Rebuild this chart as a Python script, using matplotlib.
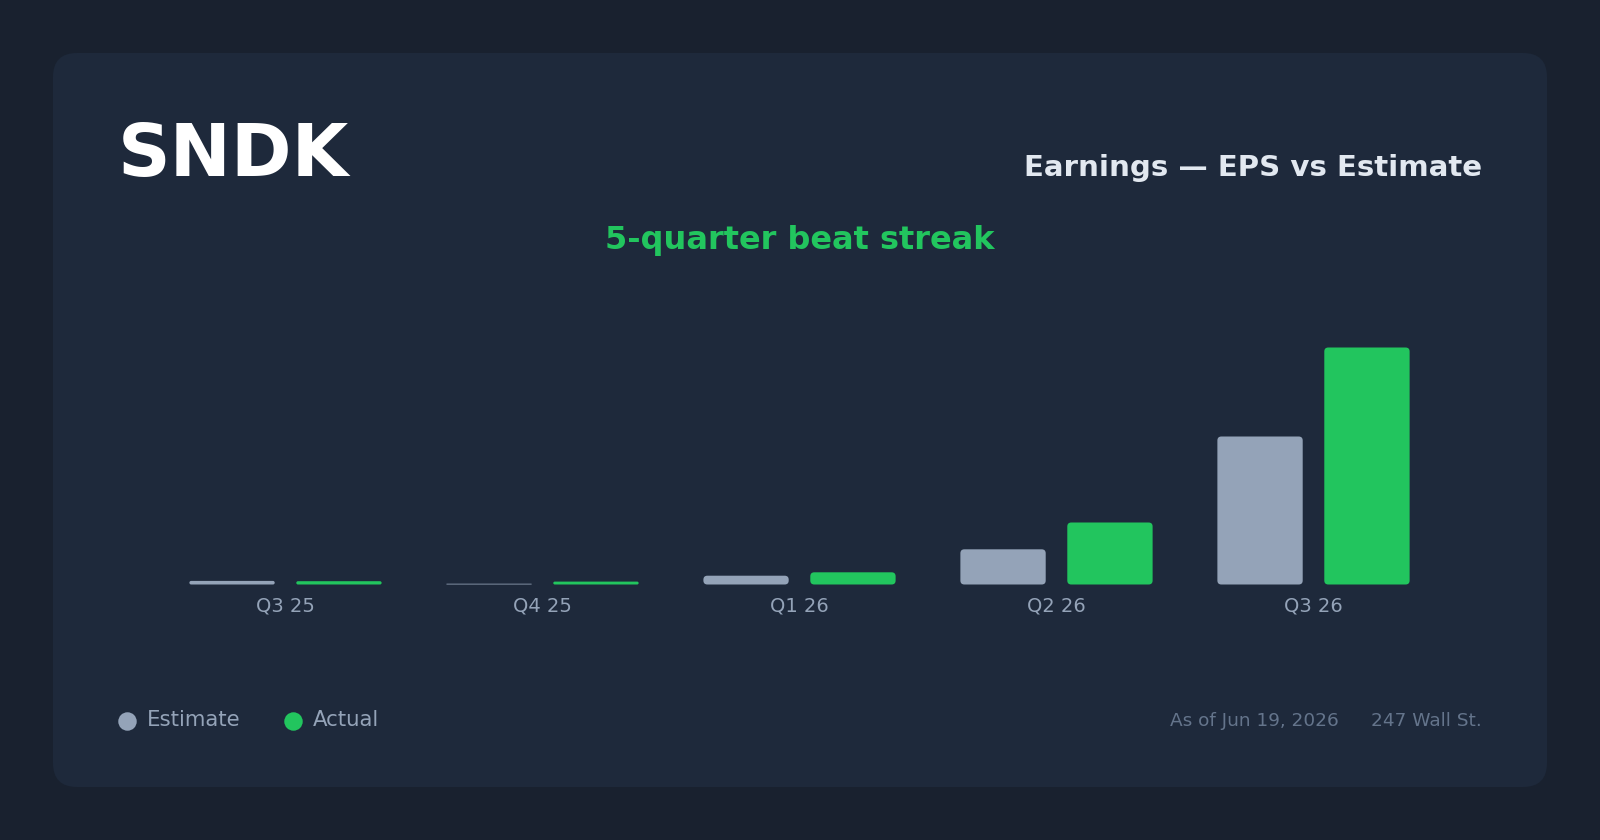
import matplotlib
matplotlib.use("Agg")
import matplotlib.pyplot as plt
from matplotlib.patches import FancyBboxPatch
from matplotlib.lines import Line2D
import numpy as np

# ---- data ----
quarters = ["Q3 25", "Q4 25", "Q1 26", "Q2 26", "Q3 26"]
eps_estimate = [0.36, 0.08, 0.88, 3.52, 14.80]
eps_actual = [0.33, 0.29, 1.22, 6.20, 23.70]

ticker = "SNDK"
title = "Earnings — EPS vs Estimate"
subtitle = "5-quarter beat streak"
legend_labels = ["Estimate", "Actual"]
as_of = "As of Jun 19, 2026"
source = "247 Wall St."

# ---- style ----
BG = "#19212f"
CARD = "#1e293b"
GREY = "#94a3b8"
GREEN = "#22c55e"
W, H = 1600, 840

plt.rcParams['font.family'] = ['DejaVu Sans']

fig = plt.figure(figsize=(W / 100, H / 100), dpi=100)
fig.patch.set_facecolor(BG)


def fx(px):
    return px / W


def fy(py):
    return 1 - py / H


card = FancyBboxPatch((fx(53), fy(787)), (1547 - 53) / W, (787 - 53) / H,
                      boxstyle="round,pad=0,rounding_size=%f" % (24 / W),
                      mutation_aspect=W / H, transform=fig.transFigure,
                      facecolor=CARD, edgecolor="none", zorder=0)
fig.add_artist(card)

# ---- axes ----
ax_left, ax_right = 157, 1442
ax_base, ax_top = 584.5, 300.0
ax = fig.add_axes([fx(ax_left), fy(ax_base), (ax_right - ax_left) / W, (ax_base - ax_top) / H])
ax.set_facecolor("none")
ax.set_xlim(-0.5, len(quarters) - 0.5)
ax.set_ylim(0, 28.45)
for s in ax.spines.values():
    s.set_visible(False)
ax.set_yticks([])

x = np.arange(len(quarters))
bw, off = 0.332, 0.208
bars_e = ax.bar(x - off, eps_estimate, bw, color=GREY)
bars_a = ax.bar(x + off, eps_actual, bw, color=GREEN)

ax.set_xticks(x)
ax.set_xticklabels(quarters)
ax.tick_params(axis='x', length=0, pad=9, labelsize=14, labelcolor=GREY)

# rounded bar corners
px_x = (ax_right - ax_left) / (len(quarters))          # px per x unit
px_y = (ax_base - ax_top) / 28.45                       # px per y unit
aspect = px_x / px_y
for cont in (bars_e, bars_a):
    for rect in cont.patches:
        x0, y0 = rect.get_x(), rect.get_y()
        w, h = rect.get_width(), rect.get_height()
        r_px = min(4.0, h * px_y / 2.0)
        fb = FancyBboxPatch((x0, y0), w, h,
                            boxstyle="round,pad=0,rounding_size=%f" % (r_px / px_x),
                            mutation_aspect=aspect,
                            facecolor=rect.get_facecolor(), edgecolor="none", zorder=2)
        rect.set_visible(False)
        ax.add_patch(fb)

# ---- texts ----
fig.text(fx(118), fy(176), ticker, fontsize=52.6, fontweight='bold', color="#ffffff",
         ha='left', va='baseline')
fig.text(fx(1482), fy(176), title, fontsize=21.1, fontweight='bold', color="#e2e8f0",
         ha='right', va='baseline')
fig.text(fx(800), fy(249), subtitle, fontsize=23.0, fontweight='bold', color=GREEN,
         ha='center', va='baseline')

# legend
for cx, tx, lab, col in [(126.7, 146.5, legend_labels[0], GREY), (292.7, 313.0, legend_labels[1], GREEN)]:
    fig.add_artist(Line2D([fx(cx)], [fy(720.7)], marker='o', markersize=13.3,
                          markerfacecolor=col, markeredgecolor='none', linestyle='none',
                          transform=fig.transFigure))
    fig.text(fx(tx), fy(726.5), lab, fontsize=15.3, color=GREY, ha='left', va='baseline')

fig.text(fx(1482), fy(726), source, fontsize=13.3, color="#64748b", ha='right', va='baseline')
fig.text(fx(1339), fy(726), as_of, fontsize=13.3, color="#64748b", ha='right', va='baseline')

fig.savefig("out.png", dpi=100, facecolor=BG)
